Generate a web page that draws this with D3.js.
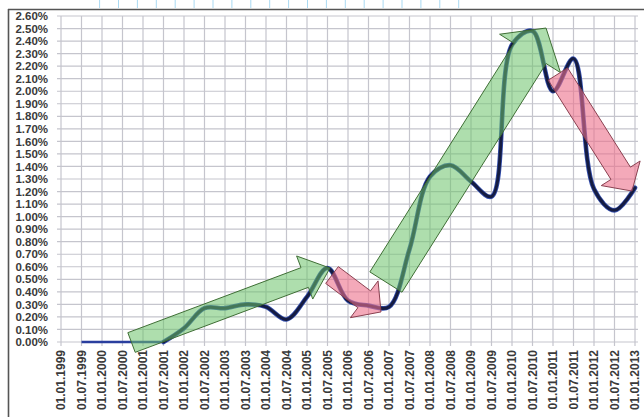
<!DOCTYPE html>
<html>
<head>
<meta charset="utf-8">
<script src="https://cdn.jsdelivr.net/npm/d3@7/dist/d3.min.js"></script>
<style>
  html, body { margin: 0; padding: 0; background: #fff; }
  svg { display: block; }
</style>
</head>
<body>
<svg id="chart" width="644" height="417"></svg>
<script>
// ---------- DATA ----------
const dates = ["01.01.1999","01.07.1999","01.01.2000","01.07.2000","01.01.2001","01.07.2001",
  "01.01.2002","01.07.2002","01.01.2003","01.07.2003","01.01.2004","01.07.2004",
  "01.01.2005","01.07.2005","01.01.2006","01.07.2006","01.01.2007","01.07.2007",
  "01.01.2008","01.07.2008","01.01.2009","01.07.2009","01.01.2010","01.07.2010",
  "01.01.2011","01.07.2011","01.01.2012","01.07.2012","01.01.2013"];
const rates = [null, 0, 0, 0, 0, 0, 0.11, 0.27, 0.27, 0.30, 0.28, 0.18, 0.36, 0.59,
  0.33, 0.29, 0.28, 0.74, 1.32, 1.41, 1.28, 1.16, 2.37, 2.48, 2.00, 2.26, 1.22, 1.05, 1.23];
const yTicks = [0, 0.1, 0.2, 0.3, 0.4, 0.5, 0.6, 0.7, 0.8, 0.9, 1.0, 1.1, 1.2, 1.3,
  1.4, 1.5, 1.6, 1.7, 1.8, 1.9, 2.0, 2.1, 2.2, 2.3, 2.4, 2.5, 2.6];
// trend arrows: tail / tip as [category index, value %]
const arrowKind  = ["up", "down", "up", "down"];
const arrowTail  = [[3.44, -0.004], [13.22, 0.534], [15.85, 0.478], [24.24, 2.137]];
const arrowTip   = [[13.12, 0.59], [15.61, 0.24], [23.66, 2.504], [27.85, 1.204]];
const arrowShaft = [21, 21, 38, 23];
const arrowHead  = [46, 46, 72, 46];
const arrowHeadLen = [27, 21, 30, 21];

// ---------- LAYOUT ----------
const svg = d3.select("#chart");
const x = d3.scalePoint().domain(dates).range([61, 635]);
const y = d3.scaleLinear().domain([0, 2.6]).range([342, 16]);
const idxX = d3.scaleLinear().domain([0, dates.length - 1]).range([61, 635]);

// scan ruler marks at top (decoration)
svg.append("g").selectAll("line").data(d3.range(20)).join("line")
  .attr("x1", i => 99.6 + i * 18.9).attr("x2", i => 99.6 + i * 18.9)
  .attr("y1", 0).attr("y2", 8)
  .attr("stroke", "#a9d9f2").attr("stroke-width", 1);

// frame
svg.append("line").attr("x1", 8).attr("x2", 644).attr("y1", 9.5).attr("y2", 9.5)
  .attr("stroke", "#555").attr("stroke-width", 1.6);
svg.append("line").attr("x1", 8.5).attr("x2", 8.5).attr("y1", 9).attr("y2", 417)
  .attr("stroke", "#555").attr("stroke-width", 1.6);

// grid
const grid = svg.append("g").attr("stroke", "#c5c5cd").attr("stroke-width", 1.2);
grid.selectAll(".h").data(yTicks).join("line")
  .attr("x1", 57).attr("x2", 638)
  .attr("y1", d => y(d)).attr("y2", d => y(d));
grid.selectAll(".v").data(dates).join("line")
  .attr("x1", d => x(d)).attr("x2", d => x(d))
  .attr("y1", y(2.6)).attr("y2", y(0) + 4);

// y labels
svg.append("g").selectAll("text").data(yTicks).join("text")
  .attr("x", 48).attr("y", d => y(d)).attr("dy", "0.36em")
  .attr("text-anchor", "end")
  .attr("font-family", "Liberation Sans, Arial, sans-serif")
  .attr("font-weight", "bold").attr("font-size", "11.5px").attr("fill", "#3a3a3a")
  .text(d => d.toFixed(2) + "%");

// x labels
svg.append("g").selectAll("text").data(dates).join("text")
  .attr("transform", d => `translate(${x(d)},350) rotate(-90)`)
  .attr("dy", "0.36em")
  .attr("text-anchor", "end")
  .attr("font-family", "Liberation Sans, Arial, sans-serif")
  .attr("font-weight", "bold").attr("font-size", "12px").attr("fill", "#3a3a3a")
  .text(d => d);

// series
const pts = dates.map((d, i) => ({d, v: rates[i], i})).filter(p => p.v !== null);
const flat = pts.filter(p => p.v === 0);
const curved = pts.filter(p => p.i >= flat[flat.length - 1].i);
const lineGen = d3.line().x(p => x(p.d)).y(p => y(p.v)).curve(d3.curveCatmullRom.alpha(0.5));

svg.append("path").attr("d", d3.line().x(p => x(p.d)).y(p => y(p.v))(flat))
  .attr("fill", "none").attr("stroke", "#2a3e9e").attr("stroke-width", 2.4);
svg.append("path").attr("d", lineGen(curved))
  .attr("fill", "none").attr("stroke", "#3550b0").attr("stroke-width", 4.6)
  .attr("stroke-linejoin", "round").attr("stroke-linecap", "round");
svg.append("path").attr("d", lineGen(curved))
  .attr("fill", "none").attr("stroke", "#151c42").attr("stroke-width", 3)
  .attr("stroke-linejoin", "round").attr("stroke-linecap", "round");

// arrows
function arrowPoly(k) {
  const T = [idxX(arrowTail[k][0]), y(arrowTail[k][1])];
  const P = [idxX(arrowTip[k][0]), y(arrowTip[k][1])];
  const len = Math.hypot(P[0] - T[0], P[1] - T[1]);
  const d = [(P[0] - T[0]) / len, (P[1] - T[1]) / len];
  const n = [-d[1], d[0]];
  const hl = arrowHeadLen[k], w = arrowShaft[k] / 2, hw = arrowHead[k] / 2;
  const B = [P[0] - d[0] * hl, P[1] - d[1] * hl];
  const pt = (o, s) => [o[0] + n[0] * s, o[1] + n[1] * s];
  return [pt(T, w), pt(B, w), pt(B, hw), P, pt(B, -hw), pt(B, -w), pt(T, -w)];
}
svg.append("g").selectAll("polygon").data(d3.range(arrowKind.length)).join("polygon")
  .attr("points", k => arrowPoly(k).map(p => p.join(",")).join(" "))
  .attr("fill", k => arrowKind[k] === "up" ? "#6cc26a" : "#ec6f8a")
  .attr("fill-opacity", k => arrowKind[k] === "up" ? 0.55 : 0.6)
  .attr("stroke", k => arrowKind[k] === "up" ? "#3f6e35" : "#8a4050")
  .attr("stroke-width", 1).attr("stroke-linejoin", "miter");
</script>
</body>
</html>
